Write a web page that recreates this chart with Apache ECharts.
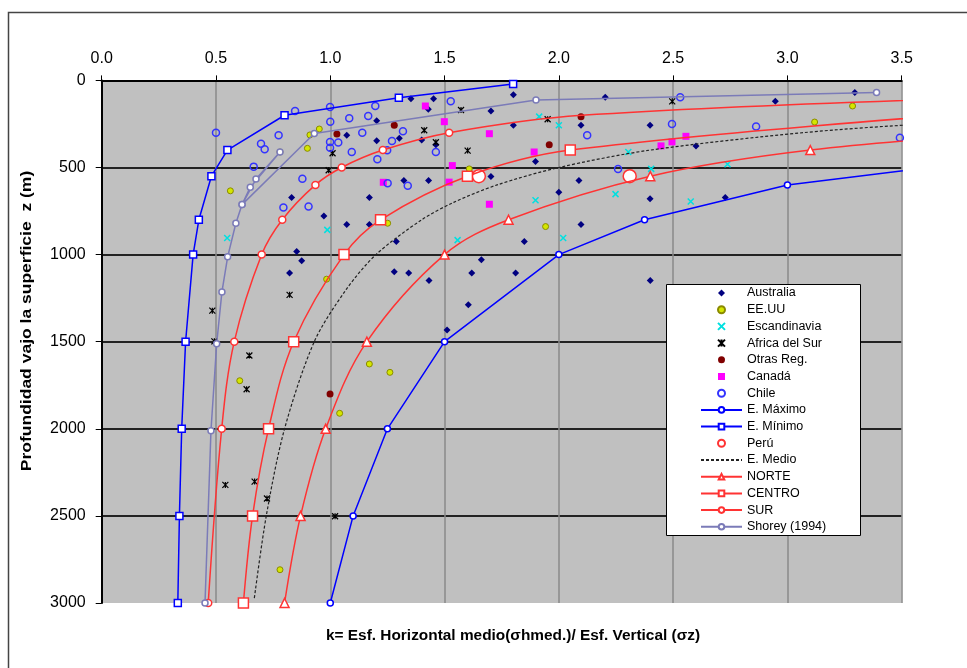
<!DOCTYPE html>
<html><head><meta charset="utf-8">
<script src="https://cdn.jsdelivr.net/npm/echarts@6/dist/echarts.min.js"></script>
<style>html,body{margin:0;padding:0;background:#fff}#c{width:967px;height:668px}</style>
</head><body><div id="c"></div>
<script>
// ---- data (k, depth z in m) ----
const xTicks = [0, 0.5, 1.0, 1.5, 2.0, 2.5, 3.0, 3.5];
const yTicks = [0, 500, 1000, 1500, 2000, 2500, 3000];

const australia = [[1.353,105],[1.452,105],[1.801,82],[2.203,97],[3.295,70],[2.947,120],[1.203,231],[1.429,166],[1.703,175],[1.801,257],[2.097,257],[2.399,257],[1.072,315],[1.203,347],[1.302,332],[1.4,342],[1.462,369],[1.898,466],[2.6,376],[0.831,672],[1.171,672],[1.322,575],[1.43,575],[1.703,552],[2.088,575],[2.0,642],[2.399,680],[2.728,672],[0.972,778],[1.072,827],[1.171,827],[2.097,827],[1.289,925],[1.849,925],[0.853,982],[0.875,1036],[0.822,1106],[1.28,1099],[1.343,1106],[1.432,1149],[1.661,1030],[1.619,1106],[1.811,1106],[2.4,1149],[1.604,1288],[1.511,1433]];
const eeuu = [[0.952,279],[0.911,313],[0.78,411],[0.9,390],[0.563,634],[1.227,801],[1.251,820],[1.608,508],[1.942,839],[3.285,147],[3.119,239],[1.261,1676],[0.984,1141],[1.171,1628],[0.604,1724],[1.041,1911],[0.78,2809]];
const escandinavia = [[1.914,208],[2.0,257],[2.304,411],[2.404,508],[2.248,653],[1.898,688],[1.557,917],[2.019,905],[2.738,481],[2.577,695],[0.987,858],[0.549,905]];
const africa = [[1.572,170],[1.411,286],[1.462,355],[1.601,403],[1.951,223],[2.496,120],[1.01,418],[0.993,516],[0.822,1231],[0.484,1322],[0.493,1498],[0.646,1579],[0.634,1773],[0.541,2322],[0.669,2303],[0.723,2400],[1.021,2502]];
const otras = [[1.28,257],[1.958,369],[2.097,208],[1.029,307],[0.999,1800]];
const canada = [[1.416,147],[1.499,237],[1.696,306],[1.892,411],[1.534,489],[1.52,584],[1.696,711],[2.447,376],[2.495,353],[2.556,321],[1.232,585]];
const chile = [[0.846,175],[0.999,153],[1.197,147],[0.5,300],[1.0,238],[1.083,217],[1.166,204],[0.774,315],[0.697,363],[0.713,395],[0.999,353],[1.035,357],[0.999,386],[1.094,411],[1.14,300],[1.206,452],[1.249,401],[0.665,495],[0.878,564],[0.795,730],[0.905,724],[1.251,590],[1.527,120],[1.318,292],[1.27,348],[1.462,411],[2.124,315],[2.259,508],[2.495,250],[1.339,605],[2.531,97],[2.863,265],[3.492,329]];
const eMax = [[4.25,400],[3.0,600],[2.375,800],[2.0,1000],[1.5,1500],[1.25,2000],[1.1,2500],[1.0,3000]];
const eMin = [[1.8,20],[1.3,100],[0.8,200],[0.55,400],[0.48,550],[0.425,800],[0.4,1000],[0.367,1500],[0.35,2000],[0.34,2500],[0.333,3000]];
const peru = [[1.65,550],[2.31,550]];
const eMedio = [[4.4,200],[3.6,250],[3.07,300],[2.4,400],[2.0,500],[1.73,600],[1.54,700],[1.4,800],[1.2,1000],[1.07,1200],[0.93,1500],[0.8,2000],[0.72,2500],[0.667,2980]];
const norte = [[4.0,300],[3.1,400],[2.4,550],[1.78,800],[1.5,1000],[1.16,1500],[0.98,2000],[0.87,2500],[0.8,3000]];
const centro = [[3.7,200],[2.05,400],[1.6,550],[1.22,800],[1.06,1000],[0.84,1500],[0.73,2000],[0.66,2500],[0.62,3000]];
const sur = [[3.85,100],[2.1,200],[1.52,300],[1.23,400],[1.05,500],[0.935,600],[0.79,800],[0.7,1000],[0.58,1500],[0.525,2000],[0.466,3000]];
const surHidden = [1]; // index of SUR point drawn without marker
const shorey = [[3.39,69],[1.9,112],[0.93,305],[0.614,713],[0.65,613],[0.78,411],[0.675,566],[0.614,713],[0.587,820],[0.551,1013],[0.526,1214],[0.503,1512],[0.478,2011],[0.452,3000]];

const FONT = "'Liberation Sans', Arial, sans-serif";
const X_PATH = 'path://M0,0L10,10M10,0L0,10';
const STAR_PATH = 'path://M0,0L10,10M10,0L0,10M5,0L5,10';
const DIAMOND_PATH = 'path://M5,0L10,5L5,10L0,5Z';
const SQUARE_PATH = 'path://M0,0L10,0L10,10L0,10Z';

const chart = echarts.init(document.getElementById('c'), null, {renderer:'canvas'});

function scatter(name, data, symbol, size, color, border, bw) {
  return {name, type:'scatter', data, symbol, symbolSize:size, symbolKeepAspect:true,
    itemStyle:{color:color, borderColor:border||color, borderWidth:bw||0, opacity:1},
    emphasis:{disabled:true}, z:2};
}
function line(name, data, color, symbol, size, opts) {
  return Object.assign({name, type:'line', data, symbol, symbolSize:size, showSymbol:true,
    lineStyle:{color, width:1.5}, itemStyle:{color:'#fff', borderColor:color, borderWidth:1.5},
    emphasis:{disabled:true}, clip:true, z:3, animation:false}, opts||{});
}

const surData = sur.map((p,i)=> surHidden.includes(i) ? {value:p, symbol:'none'} : p);

const series = [
  scatter('Australia', australia, DIAMOND_PATH, 7, '#000080'),
  scatter('EE.UU', eeuu, 'circle', 6, '#d4e600', '#8a8a00', 1),
  scatter('Escandinavia', escandinavia, X_PATH, 6, '#00ffff', '#00e0e0', 1.5),
  scatter('Africa del Sur', africa, STAR_PATH, 6, '#000000', '#000000', 1.2),
  scatter('Otras Reg.', otras, 'circle', 7, '#800000'),
  scatter('Canadá', canada, SQUARE_PATH, 7, '#ff00ff'),
  scatter('Chile', chile, 'circle', 7, 'rgba(0,0,0,0)', '#3333ff', 1.5),
  line('E. Máximo', eMax, '#0000ff', 'circle', 6),
  line('E. Mínimo', eMin, '#0000ff', 'rect', 7),
  scatter('Perú', peru, 'circle', 13, '#ffffff', '#ff3333', 1.5),
  line('E. Medio', eMedio, '#000000', 'none', 0, {lineStyle:{color:'#222', width:1.2, type:[3,2]}, smooth:0.3, itemStyle:{color:'#000'}}),
  line('NORTE', norte, '#ff3333', 'triangle', 9, {smooth:0.35}),
  line('CENTRO', centro, '#ff3333', 'rect', 10, {smooth:0.35}),
  line('SUR', surData, '#ff3333', 'circle', 7, {smooth:0.35}),
  line('Shorey (1994)', shorey, '#7b7bb8', 'circle', 6)
];

const legendData = series.map(s => s.name === 'E. Medio'
  ? {name:s.name, itemStyle:{opacity:0}}
  : s.name);

const option = {
  animation:false,
  backgroundColor:'#ffffff',
  textStyle:{fontFamily:FONT},
  grid:{left:101.7, right:65.3, top:80.4, bottom:65, show:true, backgroundColor:'#c0c0c0', borderWidth:0},
  xAxis:{type:'value', position:'top', min:xTicks[0], max:xTicks[xTicks.length-1], interval:0.5,
    axisLine:{show:true, onZero:false, lineStyle:{color:'#000', width:2}},
    axisTick:{show:true, inside:false, length:5, lineStyle:{color:'#000'}},
    axisLabel:{fontSize:16, color:'#000', margin:14, fontFamily:FONT, formatter:v=>v.toFixed(1)},
    splitLine:{show:true, lineStyle:{color:'#8a8a8a', width:1.5}}},
  yAxis:{type:'value', inverse:true, min:yTicks[0], max:yTicks[yTicks.length-1], interval:500,
    axisLine:{show:true, onZero:false, lineStyle:{color:'#000', width:2}},
    axisTick:{show:true, inside:false, length:6, lineStyle:{color:'#000'}},
    axisLabel:{fontSize:16, color:'#000', margin:16, fontFamily:FONT, formatter:v=>String(v)},
    splitLine:{show:true, lineStyle:{color:['#222','#222','#222','#222','#222','#222','rgba(0,0,0,0)'], width:2}}},
  legend:{orient:'vertical', left:700, top:286, itemWidth:41, itemHeight:7, itemGap:2.7, padding:0,
    textStyle:{fontSize:12.5, color:'#000', fontFamily:FONT, lineHeight:14},
    inactiveColor:'#000', selectedMode:false, z:20,
    data:legendData},
  graphic:[
    {type:'rect', silent:true, z:-10, shape:{x:8.5, y:12.5, width:1000, height:700}, style:{fill:'none', stroke:'#444', lineWidth:1.5}},
    {type:'rect', silent:true, z:10, shape:{x:666.5, y:284.5, width:194, height:251}, style:{fill:'#fff', stroke:'#000', lineWidth:1}},
    {type:'text', silent:true, z:10, x:513, y:636, scaleX:1.1, style:{text:'k= Esf. Horizontal medio(σhmed.)/ Esf. Vertical (σz)', font:'bold 14px '+FONT, fill:'#000', textAlign:'center', textVerticalAlign:'middle'}},
    {type:'text', silent:true, z:10, x:27, y:321, rotation:Math.PI/2, scaleX:1.25, style:{text:'Profundidad vajo la superficie  z (m)', font:'bold 14px '+FONT, fill:'#000', textAlign:'center', textVerticalAlign:'middle'}}
  ],
  series
};
chart.setOption(option);
</script></body></html>
